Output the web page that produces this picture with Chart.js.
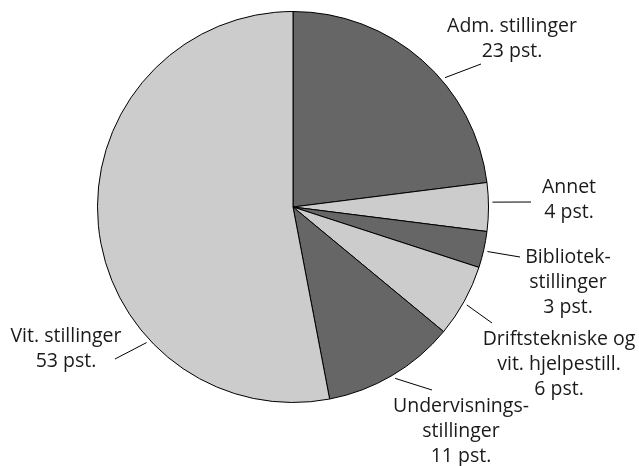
<!DOCTYPE html>
<html>
<head>
<meta charset="utf-8">
<script src="https://cdn.jsdelivr.net/npm/chart.js@4.4.0/dist/chart.umd.min.js"></script>
<style>
  html, body { margin: 0; padding: 0; background: #fff; }
  #wrap { width: 639px; height: 466px; }
</style>
</head>
<body>
<div id="wrap"><canvas id="pieChart" width="639" height="466"></canvas></div>
<script>
// data
var categories = [
    ['Adm. stillinger'],
    ['Annet'],
    ['Bibliotek-', 'stillinger'],
    ['Driftstekniske og', 'vit. hjelpestill.'],
    ['Undervisnings-', 'stillinger'],
    ['Vit. stillinger']
];
var shares = [23, 4, 3, 6, 11, 53];
var sliceColors = ['#666666', '#cccccc', '#666666', '#cccccc', '#666666', '#cccccc'];

// where each label sits: leader angle (deg from top), leader end and text centre relative to pie centre
var labelLayout = [
    { angle: 49.6,  end: [188, -143], text: [219, -175] },
    { angle: 88.6,  end: [238, -5],   text: [276, -14] },
    { angle: 102.9, end: [227, 50],   text: [275, 56] },
    { angle: 119.4, end: [199, 116],  text: [266, 138] },
    { angle: 149.2, end: [139, 183],  text: [168, 205] },
    { angle: 227.2, end: [-178, 152], text: [-227, 135] }
];

var pieLabels = {
    id: 'pieLabels',
    afterDraw: function (chart) {
        var ctx = chart.ctx;
        var arcs = chart.getDatasetMeta(0).data;
        ctx.save();
        ctx.font = '19.5px "Open Sans", "Noto Sans", sans-serif';
        ctx.fillStyle = '#1a1a1a';
        ctx.textAlign = 'center';
        ctx.textBaseline = 'alphabetic';
        ctx.strokeStyle = '#000';
        ctx.lineWidth = 1;
        arcs.forEach(function (arc, i) {
            var lay = labelLayout[i];
            var cx = arc.x, cy = arc.y;
            var r = arc.outerRadius + 4;
            var a = lay.angle * Math.PI / 180;
            ctx.beginPath();
            ctx.moveTo(cx + r * Math.sin(a), cy - r * Math.cos(a));
            ctx.lineTo(cx + lay.end[0], cy + lay.end[1]);
            ctx.stroke();
            var lines = categories[i].concat([shares[i] + ' pst.']);
            lines.forEach(function (t, k) {
                ctx.fillText(t, cx + lay.text[0], cy + lay.text[1] + k * 25);
            });
        });
        ctx.restore();
    }
};

var ctx = document.getElementById('pieChart').getContext('2d');
var chart = new Chart(ctx, {
    type: 'pie',
    data: {
        labels: categories.map(function (c) { return c.join(' '); }),
        datasets: [{
            data: shares,
            backgroundColor: sliceColors,
            borderColor: '#000000',
            borderWidth: 1,
            hoverOffset: 0
        }]
    },
    options: {
        responsive: false,
        animation: false,
        layout: { padding: { left: 97, right: 150, top: 11, bottom: 63 } },
        plugins: {
            legend: { display: false },
            tooltip: { enabled: false }
        }
    },
    plugins: [pieLabels]
});
</script>
</body>
</html>
